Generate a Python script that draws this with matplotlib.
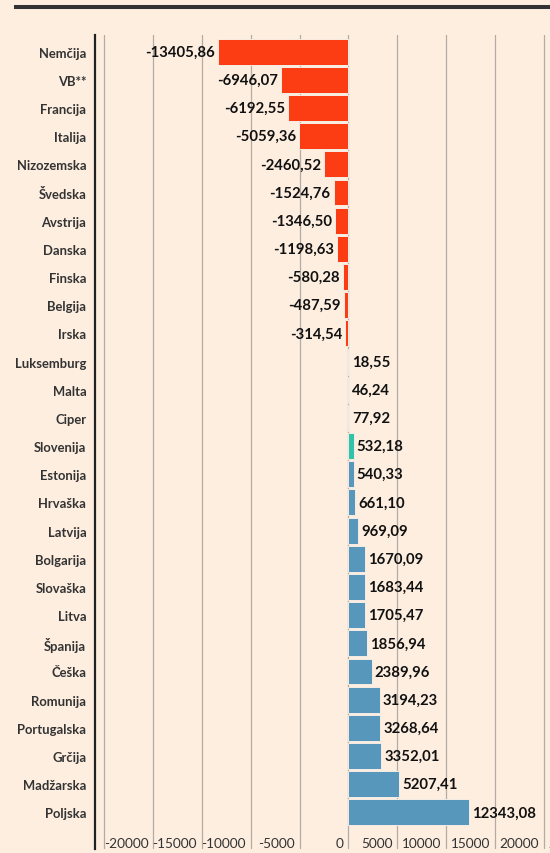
import matplotlib
matplotlib.use("Agg")
import matplotlib.pyplot as plt
from matplotlib.transforms import ScaledTranslation
from matplotlib.lines import Line2D

countries = ["Nemčija", "VB**", "Francija", "Italija", "Nizozemska", "Švedska",
             "Avstrija", "Danska", "Finska", "Belgija", "Irska", "Luksemburg",
             "Malta", "Ciper", "Slovenija", "Estonija", "Hrvaška", "Latvija",
             "Bolgarija", "Slovaška", "Litva", "Španija", "Češka", "Romunija",
             "Portugalska", "Grčija", "Madžarska", "Poljska"]
values = [-13405.86, -6946.07, -6192.55, -5059.36, -2460.52, -1524.76,
          -1346.50, -1198.63, -580.28, -487.59, -314.54, 18.55,
          46.24, 77.92, 532.18, 540.33, 661.10, 969.09,
          1670.09, 1683.44, 1705.47, 1856.94, 2389.96, 3194.23,
          3268.64, 3352.01, 5207.41, 12343.08]
highlight = "Slovenija"
tick_values = [-25000, -20000, -15000, -10000, -5000, 0, 5000, 10000, 15000, 20000, 25000, 30000]
tick_labels = ["", "-20000", "-15000", "-10000", "-5000", "0", "5000", "10000", "15000", "20000", "25000", ""]

BG = "#fdeee0"
NEG = "#fc3d14"
POS = "#5897bc"
HL = "#2fc4a9"

plt.rcParams['font.family'] = ['Lato', 'DejaVu Sans']

fig = plt.figure(figsize=(5.5, 8.54), dpi=100, facecolor=BG)
W, H = 550, 854
left_px, top_px, bottom_px = 94.7, 36, 850
xmin, xmax = -26000, 30000
px_per_unit = 9.76 / 1000
width_px = (xmax - xmin) * px_per_unit
ax = fig.add_axes([left_px / W, (H - bottom_px) / H, width_px / W, (bottom_px - top_px) / H])
ax.set_facecolor(BG)

n = len(countries)
ypos = list(range(n))
colors = [HL if c == highlight else (NEG if v < 0 else POS) for c, v in zip(countries, values)]
ax.barh(ypos, values, height=0.92, color=colors, edgecolor="#f6ece4", linewidth=0.7, zorder=3)

ax.set_xlim(xmin, xmax)
ax.set_ylim(n - 1 + 1.3, -0.59)

# value labels
for y, v in zip(ypos, values):
    txt = f"{abs(v):.2f}".replace(".", ",")
    txt = ("-" + txt) if v < 0 else txt
    if v < 0:
        off = ScaledTranslation(-3 / 100, 0, fig.dpi_scale_trans)
        ha = "right"
    else:
        off = ScaledTranslation(3 / 100, 0, fig.dpi_scale_trans)
        ha = "left"
    ax.text(v, y, txt, ha=ha, va="center", fontsize=10.7, fontweight="bold",
            color="#111111", transform=ax.transData + off, zorder=4)

# y labels
ax.set_yticks(ypos)
ax.set_yticklabels(countries, fontsize=9.4, fontweight="bold", color="#333333")
ax.tick_params(axis="y", length=0, pad=6)

# x ticks inside plot area, right-aligned to gridlines
ax.set_xticks(tick_values)
ax.set_xticklabels(tick_labels, fontsize=9.8, color="#333333")
ax.tick_params(axis="x", length=0, pad=-8.5)
for lbl in ax.get_xticklabels():
    lbl.set_ha("right")
    lbl.set_transform(lbl.get_transform() + ScaledTranslation(-5 / 100, 0, fig.dpi_scale_trans))

ax.grid(axis="x", color="#b4aca4", linewidth=0.9, zorder=1)
ax.grid(axis="y", visible=False)
for s in ["top", "right", "bottom"]:
    ax.spines[s].set_visible(False)
ax.spines["left"].set_color("#222222")
ax.spines["left"].set_linewidth(1.6)
ax.spines["left"].set_zorder(5)

# top rule
fig.add_artist(Line2D([16 / W, 1.0], [1 - 7.5 / H, 1 - 7.5 / H], color="#333333",
                      linewidth=2.9, transform=fig.transFigure))

fig.savefig("out.png", dpi=100, facecolor=BG)
